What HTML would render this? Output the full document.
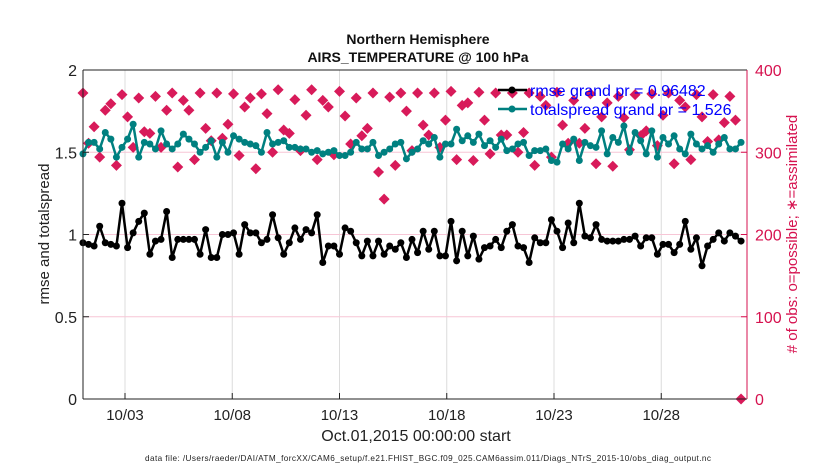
<!DOCTYPE html>
<html><head><meta charset="utf-8"><style>
html,body{margin:0;padding:0;background:#fff;}
svg{display:block;font-family:"Liberation Sans",sans-serif;}
</style></head><body>
<svg id="chart" width="830" height="470" viewBox="0 0 830 470">
<rect width="830" height="470" fill="#fff"/>
<g id="grid"></g>
<g id="series"></g>
<g id="axes"></g>
<text x="418" y="44" text-anchor="middle" font-size="14" font-weight="bold" fill="#111">Northern Hemisphere</text>
<text x="418" y="62" text-anchor="middle" font-size="14" font-weight="bold" fill="#111">AIRS_TEMPERATURE @ 100 hPa</text>
<text transform="translate(49,234) rotate(-90)" text-anchor="middle" font-size="15" fill="#222">rmse and totalspread</text>
<text transform="translate(797,234) rotate(-90)" text-anchor="middle" font-size="15" fill="#d6124f"># of obs: o=possible; ∗=assimilated</text>
<text x="416" y="441" text-anchor="middle" font-size="16" fill="#222">Oct.01,2015 00:00:00 start</text>
<text x="428" y="461" text-anchor="middle" font-size="8.2" fill="#222" textLength="566">data file: /Users/raeder/DAI/ATM_forcXX/CAM6_setup/f.e21.FHIST_BGC.f09_025.CAM6assim.011/Diags_NTrS_2015-10/obs_diag_output.nc</text>
<g id="legend">
<line x1="498" y1="90" x2="527" y2="90" stroke="#000" stroke-width="2.5"/>
<circle cx="512" cy="90" r="3.5" fill="#000"/>
<text x="530" y="96" font-size="16" fill="#0000ff">rmse grand pr = 0.96482</text>
<line x1="498" y1="109" x2="527" y2="109" stroke="#008080" stroke-width="2.5"/>
<circle cx="512" cy="109" r="3.5" fill="#008080"/>
<text x="530" y="115" font-size="16" fill="#0000ff">totalspread grand pr = 1.526</text>
</g>
</svg>
<script>
const xTickLabels = ["10/03","10/08","10/13","10/18","10/23","10/28"];
const xTickDays = [3,8,13,18,23,28];
const leftTicks = [0,0.5,1,1.5,2];
const leftTickLabels = ["0","0.5","1","1.5","2"];
const rightTicks = [0,100,200,300,400];
const startDay = 1.04;
const stepDays = 0.26;
const rmse = [0.95,0.94,0.93,1.05,0.95,0.94,0.93,1.19,0.92,1.01,1.08,1.13,0.88,0.96,0.97,1.14,0.86,0.97,0.97,0.97,0.97,0.88,1.03,0.86,0.86,1.00,1.00,1.01,0.88,1.06,1.01,1.01,0.95,0.97,1.12,0.98,0.88,0.95,1.04,0.97,1.03,1.01,1.12,0.83,0.93,0.93,0.88,1.04,1.02,0.95,0.87,0.96,0.87,0.96,0.88,0.93,0.91,0.95,0.86,0.97,
0.89,1.02,0.91,1.02,0.87,0.87,1.08,0.84,1.02,0.87,0.99,0.85,0.92,0.93,0.97,0.92,1.02,1.06,0.93,0.92,0.83,0.98,0.95,0.95,1.09,1.02,0.92,1.07,0.95,1.19,0.99,0.98,1.06,0.97,0.96,0.96,0.96,0.97,0.97,0.99,0.93,0.98,0.98,0.88,0.94,0.94,0.89,0.94,1.08,0.91,0.98,0.81,0.93,0.97,1.01,0.96,1.01,0.99,0.96];
const spread = [1.49,1.56,1.56,1.52,1.62,1.58,1.47,1.53,1.58,1.67,1.47,1.56,1.55,1.52,1.63,1.55,1.52,1.55,1.61,1.58,1.55,1.50,1.53,1.57,1.47,1.56,1.50,1.60,1.58,1.56,1.55,1.54,1.50,1.62,1.55,1.56,1.57,1.53,1.53,1.52,1.52,1.50,1.51,1.49,1.50,1.51,1.48,1.48,1.50,1.56,1.52,1.52,1.56,1.48,1.50,1.52,1.55,1.56,1.46,1.50,
1.52,1.57,1.55,1.59,1.47,1.55,1.55,1.64,1.57,1.60,1.56,1.61,1.54,1.57,1.53,1.58,1.51,1.52,1.55,1.56,1.48,1.51,1.51,1.52,1.45,1.44,1.55,1.52,1.58,1.45,1.56,1.54,1.53,1.63,1.49,1.59,1.56,1.66,1.50,1.62,1.57,1.49,1.63,1.47,1.59,1.55,1.60,1.52,1.49,1.61,1.55,1.52,1.54,1.50,1.55,1.59,1.52,1.52,1.56];
const obsCount = [372,311,331,294,351,359,284,370,343,306,366,325,323,368,306,351,372,282,363,351,291,372,329,314,372,317,334,371,296,355,366,280,371,347,300,376,327,323,364,302,345,376,291,363,355,297,374,344,310,366,320,329,372,276,243,367,284,372,350,302,
372,333,321,372,306,339,374,291,357,360,290,373,339,298,372,321,321,372,300,324,372,284,368,357,294,373,333,311,363,311,329,371,286,343,360,283,368,342,303,370,320,326,371,308,345,372,286,363,355,291,370,343,313,370,315,336,368,339,0];

const L=83,R=747,T=70,B=399;
const xOf = d => 125 + (d-3)*21.45;
const yL = v => B - v/2*(B-T);
const yR = v => B - v/400*(B-T);
const NS="http://www.w3.org/2000/svg";
function mk(tag, parent, attrs){const e=document.createElementNS(NS,tag);for(const k in attrs)e.setAttribute(k,attrs[k]);parent.appendChild(e);return e;}
const gridG=document.getElementById('grid'), axesG=document.getElementById('axes'), seriesG=document.getElementById('series');

xTickDays.forEach((d,i)=>{
  const x=xOf(d);
  const g=mk('line',gridG,{x1:x,x2:x,y1:T,y2:B,stroke:'#dcdcdc','stroke-width':1});
  
  
  const t=mk('line',axesG,{x1:x,x2:x,y1:B,y2:B-6,stroke:'#222'});
  
  
  const lb=mk('text',axesG,{x:x,y:B+21,'text-anchor':'middle','font-size':15,fill:'#222'});
  lb.textContent=xTickLabels[i];
  
  
});
rightTicks.forEach(v=>{
  const y=yR(v);
  if(v>0&&v<400){
    const g=mk('line',gridG,{x1:L,x2:R,y1:y,y2:y,stroke:'#f7c6d6','stroke-width':1});
    
    
  }
  const t=mk('line',axesG,{x1:R,x2:R-6,y1:y,y2:y,stroke:'#d6124f'});
  
  
  const lb=mk('text',axesG,{x:R+8,y:y+6,'font-size':16,fill:'#d6124f'});
  lb.textContent=String(v);
  
  
});
leftTicks.forEach((v,i)=>{
  const y=yL(v);
  const t=mk('line',axesG,{x1:L,x2:L+6,y1:y,y2:y,stroke:'#222'});
  
  
  const lb=mk('text',axesG,{x:L-6,y:y+6,'text-anchor':'end','font-size':16,fill:'#222'});
  lb.textContent=leftTickLabels[i];
  
  
});
const topBorder=mk('line',axesG,{x1:L,x2:R,y1:T,y2:T,stroke:'#222'});


const bottomAxis=mk('line',axesG,{x1:L,x2:R,y1:B,y2:B,stroke:'#222'});


const leftAxis=mk('line',axesG,{x1:L,x2:L,y1:T,y2:B,stroke:'#222'});


const rightAxis=mk('line',axesG,{x1:R,x2:R,y1:T,y2:B,stroke:'#d6124f'});



obsCount.forEach((v,i)=>{
  const x=Math.min(R, xOf(startDay+i*stepDays)), y=yR(v), s=5.5;
  const p=mk('polygon',seriesG,{points:`${x},${y-s} ${x+s},${y} ${x},${y+s} ${x-s},${y}`,fill:'#d81b5a'});
  
  
  const c=mk('path',seriesG,{d:`M${x-4.5},${y}H${x+4.5}M${x},${y-4.5}V${y+4.5}`,stroke:'#d81b5a','stroke-width':1.5});
  
  
});
function drawLine(vals,color,name){
  const pts=vals.map((v,i)=>[xOf(startDay+i*stepDays),yL(v)]).filter(p=>p[0]<=R+1);
  const pl=mk('polyline',seriesG,{points:pts.map(p=>p.join(',')).join(' '),fill:'none',stroke:color,'stroke-width':2.5,'stroke-linejoin':'round'});
  
  
  pts.forEach(p=>{
    const c=mk('circle',seriesG,{cx:p[0],cy:p[1],r:3.5,fill:color});
    
    
  });
}
drawLine(spread,'#008080','totalspread');
drawLine(rmse,'#000000','rmse');
</script>
</body></html>
